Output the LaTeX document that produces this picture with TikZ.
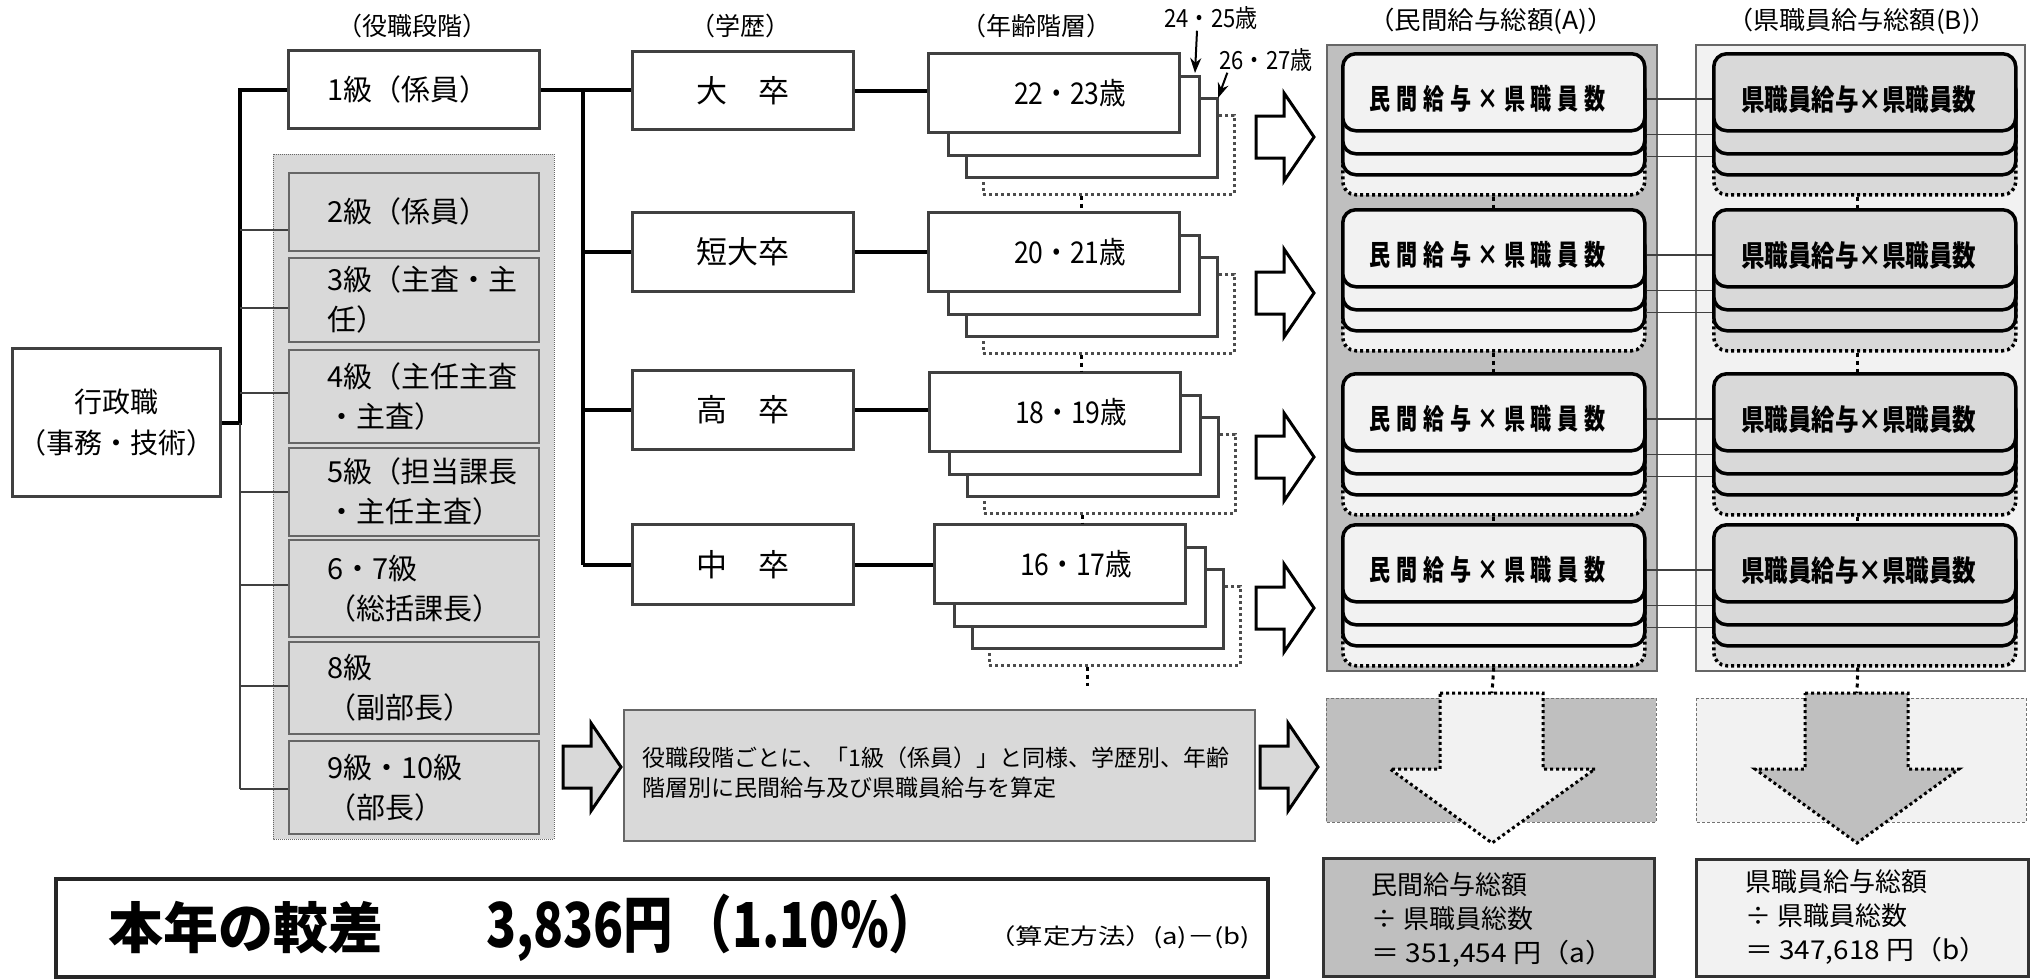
\documentclass[tikz,border=0pt]{standalone}
\usepackage{graphicx}
\usepackage{fontspec}
\setmainfont{Noto Sans CJK JP}
\usetikzlibrary{arrows.meta}
\newcommand\fsz[2]{\fontsize{#1}{#2}\selectfont}
\newcommand\fitw[2]{\resizebox{#1}{\height}{#2}}
\newcommand\nc[1]{\scalebox{0.78}[1.05]{#1}}
\begin{document}
\begin{tikzpicture}[x=1pt,y=-1pt,
  treeline/.style={line width=4pt,draw=black},
  thinconn/.style={line width=1.6pt,draw=black!75},
  sqbox/.style={draw=black!75,line width=3pt,fill=white,inner sep=0pt,anchor=north west},
  gradebox/.style={draw=black!60,line width=1.8pt,fill=black!15,inner sep=0pt,anchor=north west,minimum width=250pt},
  gtext/.style={anchor=west,align=left,inner sep=0pt,font={\fsz{29}{40}}},
  headtext/.style={inner sep=0pt,font={\fsz{25}{25}}},
  agebox/.style={draw=black!75,line width=3pt,fill=white,inner sep=0pt,anchor=north west,minimum width=251pt,minimum height=79pt},
  agedot/.style={agebox,draw=black!70,line width=2.5pt,dash pattern=on 3pt off 3pt},
  agetext/.style={inner sep=0pt,font={\fsz{30}{30}}},
  rboxA/.style={draw=black,line width=3.5pt,rounded corners=13pt,fill=black!5,inner sep=0pt,anchor=north west,minimum width=302pt,minimum height=77pt},
  rdotA/.style={rboxA,dash pattern=on 3pt off 3pt},
  rboxB/.style={rboxA,fill=black!15},
  rdotB/.style={rboxB,dash pattern=on 3pt off 3pt},
  dotconn/.style={draw=black,line width=3pt,dash pattern=on 4pt off 4pt},
  blockarr/.style={draw=black,line width=3pt,fill=white,line join=miter},
  grayarr/.style={blockarr,fill=black!15},
  agearrow/.style={draw=black,line width=2pt,-{Stealth[length=15pt,width=11pt]}},
  darr/.style={draw=black,line width=3pt,dash pattern=on 3pt off 3pt},
  areabox/.style={draw=black!55,line width=1pt,dash pattern=on 3pt off 2pt},
  resbox/.style={draw=black!80,line width=3pt,anchor=north west,inner sep=0pt},
  restext/.style={anchor=west,align=left,inner sep=0pt,font={\fsz{26}{34}}},
  edutext/.style={font={\fsz{31}{31}}},
  rarr/.pic={\path[pic actions] (0,-21) -- (28,-21) -- (28,-44) -- (58,0) -- (28,44) -- (28,21) -- (0,21) -- cycle;}
]
\fill[white] (0,0) rectangle (2031,978);
\useasboundingbox (0,0) rectangle (2031,978);

% headings
\node[headtext] (h1) at (412,26) {（役職段階）};
\node[headtext] (h2) at (740,26) {（学歴）};
\node[headtext] (h3) at (1036,26) {（年齢階層）};
\node[headtext] (h4) at (1491,21) {\fitw{246pt}{（民間給与総額(A)）}};
\node[headtext] (h5) at (1862,21) {\fitw{270pt}{（県職員給与総額(B)）}};

% grade container
\draw[black!60,line width=1pt,densely dotted,fill=black!15] (273,154) rectangle (554,839);

% left column
\node[sqbox,minimum width=208pt,minimum height=148pt,align=center,font={\fsz{28}{41}}] (gy) at (11,347) {行政職\\（事務・技術）};
\node[sqbox,minimum width=251pt,minimum height=78pt] (g1) at (287,49) {};
\node[gtext] at ([xshift=40pt]g1.west) {1級（係員）};
\node[gradebox,minimum height=78pt] (g2) at (288,172) {};
\node[gtext] at ([xshift=39pt]g2.west) {2級（係員）};
\node[gradebox,minimum height=84pt] (g3) at (288,257) {};
\node[gtext] at ([xshift=39pt]g3.west) {3級（主査・主\\任）};
\node[gradebox,minimum height=93pt] (g4) at (288,349) {};
\node[gtext] at ([xshift=39pt]g4.west) {4級（主任主査\\・主査）};
\node[gradebox,minimum height=88pt] (g5) at (288,447) {};
\node[gtext] at ([xshift=39pt]g5.west) {5級（担当課長\\・主任主査）};
\node[gradebox,minimum height=97pt] (g67) at (288,539) {};
\node[gtext] at ([xshift=39pt]g67.west) {6・7級\\（総括課長）};
\node[gradebox,minimum height=92pt] (g8) at (288,641) {};
\node[gtext] at ([xshift=39pt]g8.west) {8級\\（副部長）};
\node[gradebox,minimum height=93pt] (g9) at (288,740) {};
\node[gtext] at ([xshift=39pt]g9.west) {9級・10級\\（部長）};

% left tree
\coordinate (lv) at (240,0);
\draw[treeline] (g1.west) -- (lv |- g1.west) -- (lv |- gy.east) -- (gy.east);
\draw[thinconn] (lv |- gy.east) -- (240,789);
\foreach \g/\yy in {g2/230,g3/308,g4/393,g5/492,g67/585,g8/686,g9/789}
  \draw[thinconn] (240,\yy) -- (\g.west |- 0,\yy);

% education boxes
\node[sqbox,edutext,minimum width=221pt,minimum height=78pt] (e1) at (631,50) {大　卒};
\node[sqbox,edutext,minimum width=221pt,minimum height=79pt] (e2) at (631,211) {短大卒};
\node[sqbox,edutext,minimum width=221pt,minimum height=79pt] (e3) at (631,369) {高　卒};
\node[sqbox,edutext,minimum width=221pt,minimum height=80pt] (e4) at (631,523) {中　卒};

% age stacks
\foreach \L/\T/\txt [count=\k] in {927/52/22・23歳,927/211/20・21歳,928/371/18・19歳,933/523/16・17歳}{
  \node[agedot] (a\k-d) at (\L+55,\T+62) {};
  \node[agebox] (a\k-c) at (\L+38,\T+45) {};
  \node[agebox] (a\k-b) at (\L+20,\T+23) {};
  \node[agebox] (a\k) at (\L,\T) {};
  \node[agetext] at ([xshift=16pt]a\k.center) {\fitw{112pt}{\txt}};
}
\foreach \k/\n in {1/2,2/3,3/4}
  \draw[dotconn] ([xshift=-27pt]a\k-d.south) -- ([xshift=-27pt]a\k-d.south |- a\n.north);
\coordinate (aend) at (1080,686);
\draw[dotconn] ([xshift=-27pt]a4-d.south) -- ([xshift=-27pt]a4-d.south |- aend);

% age labels
\node[inner sep=0pt,font={\fsz{25}{25}}] (l2425) at (1211,18) {\fitw{93pt}{24・25歳}};
\node[inner sep=0pt,font={\fsz{25}{25}}] (l2627) at (1266,60) {\fitw{93pt}{26・27歳}};
\draw[agearrow] ([xshift=-14pt,yshift=-1pt]l2425.south) -- ([xshift=-6pt,yshift=2pt]a1-b.north east);
\draw[agearrow] ([xshift=8pt,yshift=-1pt]l2627.south west) -- ([xshift=-1pt,yshift=-1pt]a1-c.north east);

% tree right side
\coordinate (rv) at (583,0);
\draw[treeline] (g1.east) -- (e1.west |- g1.east);
\draw[treeline] (rv |- g1.east) -- (rv |- e4.west);
\foreach \i in {2,3,4} \draw[treeline] (rv |- e\i.west) -- (e\i.west);
\foreach \i in {1,2,3,4} \draw[treeline] (e\i.east) -- (a\i.west |- e\i.east);

% right arrows
\foreach \yy in {137,293,457,608} \pic[blockarr] at (1256,\yy) {rarr};

% containers
\draw[black!60,line width=1.2pt,fill=black!25] (1327,45) rectangle (1657,671);
\draw[black!60,line width=1.2pt,fill=black!5] (1696,45) rectangle (2025,671);

% stacks
\foreach \T [count=\k] in {52,208,372,523}{
  \node[rdotA] (A\k-d) at (1341,\T+64) {};
  \node[rboxA] (A\k-c) at (1341,\T+44) {};
  \node[rboxA] (A\k-b) at (1341,\T+23) {};
  \node[rboxA] (A\k) at (1341,\T) {};
  \node[inner sep=0pt,font={\bfseries\fsz{27}{27}}] at ([xshift=-6pt,yshift=-7pt]A\k.center) {\makebox[236pt][s]{\nc{民}\hfill\nc{間}\hfill\nc{給}\hfill\nc{与}\hfill\nc{×}\hfill\nc{県}\hfill\nc{職}\hfill\nc{員}\hfill\nc{数}}};
  \node[rdotB] (B\k-d) at (1712,\T+64) {};
  \node[rboxB] (B\k-c) at (1712,\T+44) {};
  \node[rboxB] (B\k-b) at (1712,\T+23) {};
  \node[rboxB] (B\k) at (1712,\T) {};
  \node[inner sep=0pt,font={\bfseries\fsz{29}{29}}] at ([xshift=-6pt,yshift=-7pt]B\k.center) {\fitw{235pt}{県職員給与×県職員数}};
  \draw[thinconn] ([yshift=-6.5pt]A\k.east) -- ([yshift=-6.5pt]B\k.west);
  \draw[thinconn] ([yshift=-2pt]A\k.south east) -- ([yshift=-2pt]B\k.south west);
  \draw[thinconn] ([yshift=-1pt]A\k-b.south east) -- ([yshift=-1pt]B\k-b.south west);
}
\foreach \k/\n in {1/2,2/3,3/4}{
  \draw[dotconn] (A\k-d.south) -- (A\n.north);
  \draw[dotconn] ([xshift=-7pt]B\k-d.south) -- ([xshift=-7pt]B\k-d.south |- B\n.north);
}

% down arrows
\draw[areabox,fill=black!25] (1326,698) rectangle (1656,822);
\draw[areabox,fill=black!5] (1696,698) rectangle (2026,822);
\coordinate (datopA) at (1492,693);
\coordinate (datopB) at (1857,693);
\draw[darr,fill=black!5] (1440,693) -- (1543,693) -- (1543,769) -- (1595,769) -- (1492,843) -- (1390,769) -- (1440,769) -- cycle;
\draw[darr,fill=black!25] (1805,693) -- (1908,693) -- (1908,769) -- (1959,769) -- (1857,843) -- (1755,769) -- (1805,769) -- cycle;
\draw[dotconn] (A4-d.south) -- (datopA);
\draw[dotconn] ([xshift=-7pt]B4-d.south) -- (datopB);

% results
\node[resbox,fill=black!25,minimum width=331pt,minimum height=118pt] (resA) at (1322,857) {};
\node[restext] at ([xshift=49pt,yshift=-3pt]resA.west) {民間給与総額\\÷ 県職員総数\\\fitw{242pt}{＝ 351,454 円（a）}};
\node[resbox,fill=black!5,minimum width=332pt,minimum height=117pt] (resB) at (1695,858) {};
\node[restext] at ([xshift=50pt,yshift=1pt]resB.west) {県職員給与総額\\÷ 県職員総数\\\fitw{242pt}{＝ 347,618 円（b）}};

% process
\pic[grayarr] at (563,767) {rarr};
\node[draw=black!60,line width=1.5pt,fill=black!15,anchor=north west,minimum width=631pt,minimum height=131pt,inner sep=0pt] (proc) at (623,709) {};
\node[anchor=west,align=left,inner sep=0pt,font={\fsz{23}{30}}] at ([xshift=19pt,yshift=3pt]proc.west) {役職段階ごとに、「1級（係員）」と同様、学歴別、年齢\\階層別に民間給与及び県職員給与を算定};
\pic[grayarr] at (1260,767) {rarr};

% summary
\node[draw=black!85,line width=4pt,fill=white,anchor=north west,minimum width=1212pt,minimum height=98pt,inner sep=0pt] (sum) at (54,877) {};
\node[anchor=west,inner sep=0pt,font={\bfseries\fsz{55}{55}}] (kosa) at (108,928) {本年の較差};
\node[anchor=west,inner sep=0pt,font={\bfseries\fsz{62}{62}}] (amt) at (486,928) {\fitw{452pt}{3,836円\hspace{12pt}（1.10\%）}};
\node[anchor=west,inner sep=0pt,font={\fsz{22}{22}}] (meth) at (988,937) {\fitw{262pt}{（算定方法）(a)－(b)}};
\end{tikzpicture}
\end{document}
